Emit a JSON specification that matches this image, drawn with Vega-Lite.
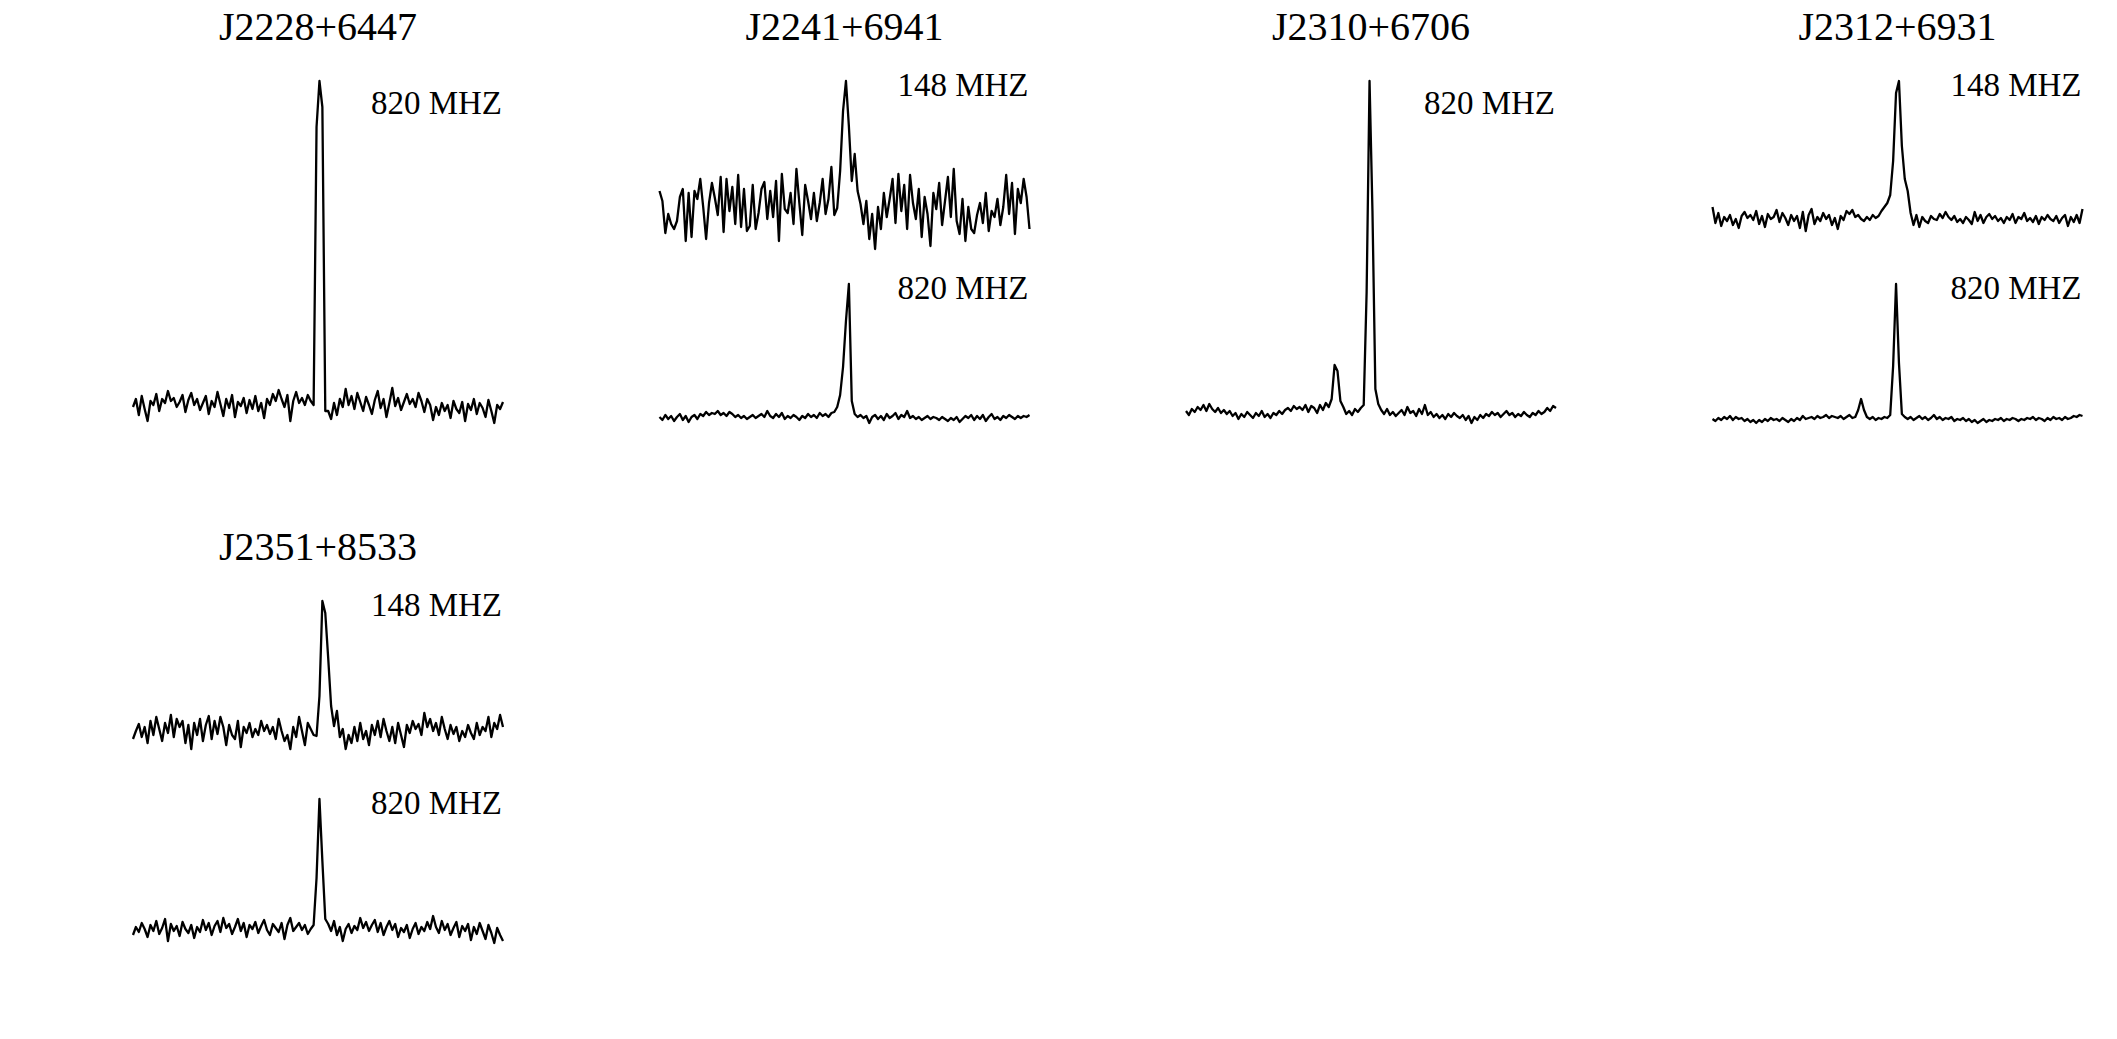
{
"$schema": "https://vega.github.io/schema/vega-lite/v6.json",
"background": "white",
"padding": {"left": 131, "top": 8, "right": 0, "bottom": 0},
"bounds": "flush",
"config": {"view": {"stroke": null}, "font": "Liberation Serif"},
"datasets": {
"pulsars": [{"k":1,"name":"J2228+6447"},{"k":2,"name":"J2241+6941"},{"k":3,"name":"J2310+6706"},{"k":4,"name":"J2312+6931"},{"k":5,"name":"J2351+8533"}],
"profiles": [
{"k":1,"b":820,"i":0,"v":22},{"k":1,"b":820,"i":1,"v":30},{"k":1,"b":820,"i":2,"v":14},{"k":1,"b":820,"i":3,"v":33},{"k":1,"b":820,"i":4,"v":20},{"k":1,"b":820,"i":5,"v":8},{"k":1,"b":820,"i":6,"v":28},{"k":1,"b":820,"i":7,"v":24},{"k":1,"b":820,"i":8,"v":35},{"k":1,"b":820,"i":9,"v":18},
{"k":1,"b":820,"i":10,"v":30},{"k":1,"b":820,"i":11,"v":26},{"k":1,"b":820,"i":12,"v":38},{"k":1,"b":820,"i":13,"v":28},{"k":1,"b":820,"i":14,"v":31},{"k":1,"b":820,"i":15,"v":22},{"k":1,"b":820,"i":16,"v":27},{"k":1,"b":820,"i":17,"v":34},{"k":1,"b":820,"i":18,"v":17},{"k":1,"b":820,"i":19,"v":29},
{"k":1,"b":820,"i":20,"v":36},{"k":1,"b":820,"i":21,"v":24},{"k":1,"b":820,"i":22,"v":30},{"k":1,"b":820,"i":23,"v":19},{"k":1,"b":820,"i":24,"v":26},{"k":1,"b":820,"i":25,"v":33},{"k":1,"b":820,"i":26,"v":15},{"k":1,"b":820,"i":27,"v":28},{"k":1,"b":820,"i":28,"v":22},{"k":1,"b":820,"i":29,"v":37},
{"k":1,"b":820,"i":30,"v":25},{"k":1,"b":820,"i":31,"v":13},{"k":1,"b":820,"i":32,"v":30},{"k":1,"b":820,"i":33,"v":21},{"k":1,"b":820,"i":34,"v":34},{"k":1,"b":820,"i":35,"v":12},{"k":1,"b":820,"i":36,"v":27},{"k":1,"b":820,"i":37,"v":23},{"k":1,"b":820,"i":38,"v":31},{"k":1,"b":820,"i":39,"v":16},
{"k":1,"b":820,"i":40,"v":29},{"k":1,"b":820,"i":41,"v":20},{"k":1,"b":820,"i":42,"v":33},{"k":1,"b":820,"i":43,"v":18},{"k":1,"b":820,"i":44,"v":26},{"k":1,"b":820,"i":45,"v":11},{"k":1,"b":820,"i":46,"v":30},{"k":1,"b":820,"i":47,"v":24},{"k":1,"b":820,"i":48,"v":35},{"k":1,"b":820,"i":49,"v":28},
{"k":1,"b":820,"i":50,"v":39},{"k":1,"b":820,"i":51,"v":30},{"k":1,"b":820,"i":52,"v":22},{"k":1,"b":820,"i":53,"v":34},{"k":1,"b":820,"i":54,"v":8},{"k":1,"b":820,"i":55,"v":28},{"k":1,"b":820,"i":56,"v":37},{"k":1,"b":820,"i":57,"v":26},{"k":1,"b":820,"i":58,"v":31},{"k":1,"b":820,"i":59,"v":24},
{"k":1,"b":820,"i":60,"v":34},{"k":1,"b":820,"i":61,"v":28},{"k":1,"b":820,"i":62,"v":24},{"k":1,"b":820,"i":63,"v":302},{"k":1,"b":820,"i":64,"v":348},{"k":1,"b":820,"i":65,"v":322},{"k":1,"b":820,"i":66,"v":18},{"k":1,"b":820,"i":67,"v":18},{"k":1,"b":820,"i":68,"v":10},{"k":1,"b":820,"i":69,"v":26},
{"k":1,"b":820,"i":70,"v":14},{"k":1,"b":820,"i":71,"v":30},{"k":1,"b":820,"i":72,"v":22},{"k":1,"b":820,"i":73,"v":40},{"k":1,"b":820,"i":74,"v":24},{"k":1,"b":820,"i":75,"v":33},{"k":1,"b":820,"i":76,"v":20},{"k":1,"b":820,"i":77,"v":36},{"k":1,"b":820,"i":78,"v":27},{"k":1,"b":820,"i":79,"v":18},
{"k":1,"b":820,"i":80,"v":32},{"k":1,"b":820,"i":81,"v":24},{"k":1,"b":820,"i":82,"v":15},{"k":1,"b":820,"i":83,"v":29},{"k":1,"b":820,"i":84,"v":38},{"k":1,"b":820,"i":85,"v":21},{"k":1,"b":820,"i":86,"v":30},{"k":1,"b":820,"i":87,"v":12},{"k":1,"b":820,"i":88,"v":26},{"k":1,"b":820,"i":89,"v":41},
{"k":1,"b":820,"i":90,"v":23},{"k":1,"b":820,"i":91,"v":31},{"k":1,"b":820,"i":92,"v":19},{"k":1,"b":820,"i":93,"v":27},{"k":1,"b":820,"i":94,"v":35},{"k":1,"b":820,"i":95,"v":25},{"k":1,"b":820,"i":96,"v":30},{"k":1,"b":820,"i":97,"v":22},{"k":1,"b":820,"i":98,"v":36},{"k":1,"b":820,"i":99,"v":28},
{"k":1,"b":820,"i":100,"v":17},{"k":1,"b":820,"i":101,"v":30},{"k":1,"b":820,"i":102,"v":24},{"k":1,"b":820,"i":103,"v":9},{"k":1,"b":820,"i":104,"v":22},{"k":1,"b":820,"i":105,"v":14},{"k":1,"b":820,"i":106,"v":26},{"k":1,"b":820,"i":107,"v":18},{"k":1,"b":820,"i":108,"v":24},{"k":1,"b":820,"i":109,"v":11},
{"k":1,"b":820,"i":110,"v":28},{"k":1,"b":820,"i":111,"v":20},{"k":1,"b":820,"i":112,"v":16},{"k":1,"b":820,"i":113,"v":27},{"k":1,"b":820,"i":114,"v":8},{"k":1,"b":820,"i":115,"v":25},{"k":1,"b":820,"i":116,"v":19},{"k":1,"b":820,"i":117,"v":30},{"k":1,"b":820,"i":118,"v":15},{"k":1,"b":820,"i":119,"v":26},
{"k":1,"b":820,"i":120,"v":21},{"k":1,"b":820,"i":121,"v":12},{"k":1,"b":820,"i":122,"v":29},{"k":1,"b":820,"i":123,"v":18},{"k":1,"b":820,"i":124,"v":6},{"k":1,"b":820,"i":125,"v":24},{"k":1,"b":820,"i":126,"v":20},{"k":1,"b":820,"i":127,"v":27},

{"k":2,"b":148,"i":0,"v":238},{"k":2,"b":148,"i":1,"v":228},{"k":2,"b":148,"i":2,"v":196},{"k":2,"b":148,"i":3,"v":215},{"k":2,"b":148,"i":4,"v":205},{"k":2,"b":148,"i":5,"v":200},{"k":2,"b":148,"i":6,"v":208},{"k":2,"b":148,"i":7,"v":232},{"k":2,"b":148,"i":8,"v":240},{"k":2,"b":148,"i":9,"v":188},
{"k":2,"b":148,"i":10,"v":236},{"k":2,"b":148,"i":11,"v":192},{"k":2,"b":148,"i":12,"v":238},{"k":2,"b":148,"i":13,"v":230},{"k":2,"b":148,"i":14,"v":250},{"k":2,"b":148,"i":15,"v":222},{"k":2,"b":148,"i":16,"v":190},{"k":2,"b":148,"i":17,"v":226},{"k":2,"b":148,"i":18,"v":246},{"k":2,"b":148,"i":19,"v":231},
{"k":2,"b":148,"i":20,"v":214},{"k":2,"b":148,"i":21,"v":252},{"k":2,"b":148,"i":22,"v":197},{"k":2,"b":148,"i":23,"v":250},{"k":2,"b":148,"i":24,"v":218},{"k":2,"b":148,"i":25,"v":242},{"k":2,"b":148,"i":26,"v":205},{"k":2,"b":148,"i":27,"v":254},{"k":2,"b":148,"i":28,"v":202},{"k":2,"b":148,"i":29,"v":240},
{"k":2,"b":148,"i":30,"v":198},{"k":2,"b":148,"i":31,"v":203},{"k":2,"b":148,"i":32,"v":244},{"k":2,"b":148,"i":33,"v":200},{"k":2,"b":148,"i":34,"v":216},{"k":2,"b":148,"i":35,"v":240},{"k":2,"b":148,"i":36,"v":247},{"k":2,"b":148,"i":37,"v":210},{"k":2,"b":148,"i":38,"v":238},{"k":2,"b":148,"i":39,"v":212},
{"k":2,"b":148,"i":40,"v":248},{"k":2,"b":148,"i":41,"v":188},{"k":2,"b":148,"i":42,"v":255},{"k":2,"b":148,"i":43,"v":220},{"k":2,"b":148,"i":44,"v":216},{"k":2,"b":148,"i":45,"v":236},{"k":2,"b":148,"i":46,"v":205},{"k":2,"b":148,"i":47,"v":260},{"k":2,"b":148,"i":48,"v":226},{"k":2,"b":148,"i":49,"v":194},
{"k":2,"b":148,"i":50,"v":244},{"k":2,"b":148,"i":51,"v":228},{"k":2,"b":148,"i":52,"v":210},{"k":2,"b":148,"i":53,"v":236},{"k":2,"b":148,"i":54,"v":208},{"k":2,"b":148,"i":55,"v":226},{"k":2,"b":148,"i":56,"v":250},{"k":2,"b":148,"i":57,"v":215},{"k":2,"b":148,"i":58,"v":230},{"k":2,"b":148,"i":59,"v":262},
{"k":2,"b":148,"i":60,"v":214},{"k":2,"b":148,"i":61,"v":221},{"k":2,"b":148,"i":62,"v":258},{"k":2,"b":148,"i":63,"v":318},{"k":2,"b":148,"i":64,"v":348},{"k":2,"b":148,"i":65,"v":303},{"k":2,"b":148,"i":66,"v":248},{"k":2,"b":148,"i":67,"v":275},{"k":2,"b":148,"i":68,"v":238},{"k":2,"b":148,"i":69,"v":225},
{"k":2,"b":148,"i":70,"v":205},{"k":2,"b":148,"i":71,"v":228},{"k":2,"b":148,"i":72,"v":190},{"k":2,"b":148,"i":73,"v":215},{"k":2,"b":148,"i":74,"v":180},{"k":2,"b":148,"i":75,"v":222},{"k":2,"b":148,"i":76,"v":200},{"k":2,"b":148,"i":77,"v":236},{"k":2,"b":148,"i":78,"v":212},{"k":2,"b":148,"i":79,"v":230},
{"k":2,"b":148,"i":80,"v":250},{"k":2,"b":148,"i":81,"v":206},{"k":2,"b":148,"i":82,"v":255},{"k":2,"b":148,"i":83,"v":218},{"k":2,"b":148,"i":84,"v":244},{"k":2,"b":148,"i":85,"v":200},{"k":2,"b":148,"i":86,"v":254},{"k":2,"b":148,"i":87,"v":226},{"k":2,"b":148,"i":88,"v":210},{"k":2,"b":148,"i":89,"v":240},
{"k":2,"b":148,"i":90,"v":192},{"k":2,"b":148,"i":91,"v":232},{"k":2,"b":148,"i":92,"v":215},{"k":2,"b":148,"i":93,"v":183},{"k":2,"b":148,"i":94,"v":236},{"k":2,"b":148,"i":95,"v":220},{"k":2,"b":148,"i":96,"v":246},{"k":2,"b":148,"i":97,"v":204},{"k":2,"b":148,"i":98,"v":228},{"k":2,"b":148,"i":99,"v":252},
{"k":2,"b":148,"i":100,"v":212},{"k":2,"b":148,"i":101,"v":260},{"k":2,"b":148,"i":102,"v":208},{"k":2,"b":148,"i":103,"v":195},{"k":2,"b":148,"i":104,"v":230},{"k":2,"b":148,"i":105,"v":188},{"k":2,"b":148,"i":106,"v":222},{"k":2,"b":148,"i":107,"v":200},{"k":2,"b":148,"i":108,"v":196},{"k":2,"b":148,"i":109,"v":214},
{"k":2,"b":148,"i":110,"v":226},{"k":2,"b":148,"i":111,"v":206},{"k":2,"b":148,"i":112,"v":236},{"k":2,"b":148,"i":113,"v":198},{"k":2,"b":148,"i":114,"v":218},{"k":2,"b":148,"i":115,"v":212},{"k":2,"b":148,"i":116,"v":230},{"k":2,"b":148,"i":117,"v":204},{"k":2,"b":148,"i":118,"v":222},{"k":2,"b":148,"i":119,"v":254},
{"k":2,"b":148,"i":120,"v":215},{"k":2,"b":148,"i":121,"v":246},{"k":2,"b":148,"i":122,"v":195},{"k":2,"b":148,"i":123,"v":240},{"k":2,"b":148,"i":124,"v":226},{"k":2,"b":148,"i":125,"v":250},{"k":2,"b":148,"i":126,"v":232},{"k":2,"b":148,"i":127,"v":200},

{"k":2,"b":820,"i":0,"v":12},{"k":2,"b":820,"i":1,"v":9},{"k":2,"b":820,"i":2,"v":14},{"k":2,"b":820,"i":3,"v":10},{"k":2,"b":820,"i":4,"v":13},{"k":2,"b":820,"i":5,"v":8},{"k":2,"b":820,"i":6,"v":12},{"k":2,"b":820,"i":7,"v":15},{"k":2,"b":820,"i":8,"v":9},{"k":2,"b":820,"i":9,"v":13},
{"k":2,"b":820,"i":10,"v":7},{"k":2,"b":820,"i":11,"v":12},{"k":2,"b":820,"i":12,"v":14},{"k":2,"b":820,"i":13,"v":10},{"k":2,"b":820,"i":14,"v":15},{"k":2,"b":820,"i":15,"v":13},{"k":2,"b":820,"i":16,"v":17},{"k":2,"b":820,"i":17,"v":14},{"k":2,"b":820,"i":18,"v":16},{"k":2,"b":820,"i":19,"v":15},
{"k":2,"b":820,"i":20,"v":18},{"k":2,"b":820,"i":21,"v":14},{"k":2,"b":820,"i":22,"v":16},{"k":2,"b":820,"i":23,"v":13},{"k":2,"b":820,"i":24,"v":17},{"k":2,"b":820,"i":25,"v":15},{"k":2,"b":820,"i":26,"v":12},{"k":2,"b":820,"i":27,"v":14},{"k":2,"b":820,"i":28,"v":11},{"k":2,"b":820,"i":29,"v":13},
{"k":2,"b":820,"i":30,"v":10},{"k":2,"b":820,"i":31,"v":12},{"k":2,"b":820,"i":32,"v":14},{"k":2,"b":820,"i":33,"v":11},{"k":2,"b":820,"i":34,"v":13},{"k":2,"b":820,"i":35,"v":15},{"k":2,"b":820,"i":36,"v":12},{"k":2,"b":820,"i":37,"v":18},{"k":2,"b":820,"i":38,"v":13},{"k":2,"b":820,"i":39,"v":11},
{"k":2,"b":820,"i":40,"v":15},{"k":2,"b":820,"i":41,"v":12},{"k":2,"b":820,"i":42,"v":16},{"k":2,"b":820,"i":43,"v":10},{"k":2,"b":820,"i":44,"v":13},{"k":2,"b":820,"i":45,"v":11},{"k":2,"b":820,"i":46,"v":14},{"k":2,"b":820,"i":47,"v":12},{"k":2,"b":820,"i":48,"v":9},{"k":2,"b":820,"i":49,"v":13},
{"k":2,"b":820,"i":50,"v":11},{"k":2,"b":820,"i":51,"v":15},{"k":2,"b":820,"i":52,"v":12},{"k":2,"b":820,"i":53,"v":14},{"k":2,"b":820,"i":54,"v":11},{"k":2,"b":820,"i":55,"v":16},{"k":2,"b":820,"i":56,"v":13},{"k":2,"b":820,"i":57,"v":15},{"k":2,"b":820,"i":58,"v":12},{"k":2,"b":820,"i":59,"v":16},
{"k":2,"b":820,"i":60,"v":17},{"k":2,"b":820,"i":61,"v":22},{"k":2,"b":820,"i":62,"v":34},{"k":2,"b":820,"i":63,"v":62},{"k":2,"b":820,"i":64,"v":108},{"k":2,"b":820,"i":65,"v":145},{"k":2,"b":820,"i":66,"v":28},{"k":2,"b":820,"i":67,"v":15},{"k":2,"b":820,"i":68,"v":12},{"k":2,"b":820,"i":69,"v":14},
{"k":2,"b":820,"i":70,"v":11},{"k":2,"b":820,"i":71,"v":13},{"k":2,"b":820,"i":72,"v":6},{"k":2,"b":820,"i":73,"v":12},{"k":2,"b":820,"i":74,"v":14},{"k":2,"b":820,"i":75,"v":10},{"k":2,"b":820,"i":76,"v":13},{"k":2,"b":820,"i":77,"v":9},{"k":2,"b":820,"i":78,"v":15},{"k":2,"b":820,"i":79,"v":11},
{"k":2,"b":820,"i":80,"v":13},{"k":2,"b":820,"i":81,"v":16},{"k":2,"b":820,"i":82,"v":10},{"k":2,"b":820,"i":83,"v":14},{"k":2,"b":820,"i":84,"v":12},{"k":2,"b":820,"i":85,"v":18},{"k":2,"b":820,"i":86,"v":11},{"k":2,"b":820,"i":87,"v":13},{"k":2,"b":820,"i":88,"v":10},{"k":2,"b":820,"i":89,"v":12},
{"k":2,"b":820,"i":90,"v":9},{"k":2,"b":820,"i":91,"v":11},{"k":2,"b":820,"i":92,"v":13},{"k":2,"b":820,"i":93,"v":10},{"k":2,"b":820,"i":94,"v":12},{"k":2,"b":820,"i":95,"v":11},{"k":2,"b":820,"i":96,"v":9},{"k":2,"b":820,"i":97,"v":12},{"k":2,"b":820,"i":98,"v":10},{"k":2,"b":820,"i":99,"v":8},
{"k":2,"b":820,"i":100,"v":11},{"k":2,"b":820,"i":101,"v":9},{"k":2,"b":820,"i":102,"v":12},{"k":2,"b":820,"i":103,"v":7},{"k":2,"b":820,"i":104,"v":10},{"k":2,"b":820,"i":105,"v":13},{"k":2,"b":820,"i":106,"v":11},{"k":2,"b":820,"i":107,"v":14},{"k":2,"b":820,"i":108,"v":9},{"k":2,"b":820,"i":109,"v":13},
{"k":2,"b":820,"i":110,"v":10},{"k":2,"b":820,"i":111,"v":14},{"k":2,"b":820,"i":112,"v":8},{"k":2,"b":820,"i":113,"v":12},{"k":2,"b":820,"i":114,"v":15},{"k":2,"b":820,"i":115,"v":10},{"k":2,"b":820,"i":116,"v":12},{"k":2,"b":820,"i":117,"v":9},{"k":2,"b":820,"i":118,"v":13},{"k":2,"b":820,"i":119,"v":11},
{"k":2,"b":820,"i":120,"v":14},{"k":2,"b":820,"i":121,"v":12},{"k":2,"b":820,"i":122,"v":10},{"k":2,"b":820,"i":123,"v":13},{"k":2,"b":820,"i":124,"v":11},{"k":2,"b":820,"i":125,"v":13},{"k":2,"b":820,"i":126,"v":12},{"k":2,"b":820,"i":127,"v":14},

{"k":3,"b":820,"i":0,"v":18},{"k":3,"b":820,"i":1,"v":14},{"k":3,"b":820,"i":2,"v":20},{"k":3,"b":820,"i":3,"v":17},{"k":3,"b":820,"i":4,"v":22},{"k":3,"b":820,"i":5,"v":19},{"k":3,"b":820,"i":6,"v":24},{"k":3,"b":820,"i":7,"v":18},{"k":3,"b":820,"i":8,"v":25},{"k":3,"b":820,"i":9,"v":20},
{"k":3,"b":820,"i":10,"v":17},{"k":3,"b":820,"i":11,"v":21},{"k":3,"b":820,"i":12,"v":16},{"k":3,"b":820,"i":13,"v":19},{"k":3,"b":820,"i":14,"v":15},{"k":3,"b":820,"i":15,"v":18},{"k":3,"b":820,"i":16,"v":13},{"k":3,"b":820,"i":17,"v":16},{"k":3,"b":820,"i":18,"v":10},{"k":3,"b":820,"i":19,"v":15},
{"k":3,"b":820,"i":20,"v":12},{"k":3,"b":820,"i":21,"v":17},{"k":3,"b":820,"i":22,"v":14},{"k":3,"b":820,"i":23,"v":11},{"k":3,"b":820,"i":24,"v":16},{"k":3,"b":820,"i":25,"v":13},{"k":3,"b":820,"i":26,"v":18},{"k":3,"b":820,"i":27,"v":12},{"k":3,"b":820,"i":28,"v":15},{"k":3,"b":820,"i":29,"v":11},
{"k":3,"b":820,"i":30,"v":16},{"k":3,"b":820,"i":31,"v":14},{"k":3,"b":820,"i":32,"v":18},{"k":3,"b":820,"i":33,"v":15},{"k":3,"b":820,"i":34,"v":19},{"k":3,"b":820,"i":35,"v":21},{"k":3,"b":820,"i":36,"v":18},{"k":3,"b":820,"i":37,"v":23},{"k":3,"b":820,"i":38,"v":20},{"k":3,"b":820,"i":39,"v":22},
{"k":3,"b":820,"i":40,"v":19},{"k":3,"b":820,"i":41,"v":24},{"k":3,"b":820,"i":42,"v":17},{"k":3,"b":820,"i":43,"v":23},{"k":3,"b":820,"i":44,"v":21},{"k":3,"b":820,"i":45,"v":16},{"k":3,"b":820,"i":46,"v":24},{"k":3,"b":820,"i":47,"v":19},{"k":3,"b":820,"i":48,"v":26},{"k":3,"b":820,"i":49,"v":22},
{"k":3,"b":820,"i":50,"v":30},{"k":3,"b":820,"i":51,"v":64},{"k":3,"b":820,"i":52,"v":58},{"k":3,"b":820,"i":53,"v":28},{"k":3,"b":820,"i":54,"v":22},{"k":3,"b":820,"i":55,"v":15},{"k":3,"b":820,"i":56,"v":18},{"k":3,"b":820,"i":57,"v":14},{"k":3,"b":820,"i":58,"v":20},{"k":3,"b":820,"i":59,"v":17},
{"k":3,"b":820,"i":60,"v":21},{"k":3,"b":820,"i":61,"v":24},{"k":3,"b":820,"i":62,"v":137},{"k":3,"b":820,"i":63,"v":348},{"k":3,"b":820,"i":64,"v":218},{"k":3,"b":820,"i":65,"v":40},{"k":3,"b":820,"i":66,"v":25},{"k":3,"b":820,"i":67,"v":19},{"k":3,"b":820,"i":68,"v":15},{"k":3,"b":820,"i":69,"v":20},
{"k":3,"b":820,"i":70,"v":14},{"k":3,"b":820,"i":71,"v":17},{"k":3,"b":820,"i":72,"v":13},{"k":3,"b":820,"i":73,"v":16},{"k":3,"b":820,"i":74,"v":19},{"k":3,"b":820,"i":75,"v":14},{"k":3,"b":820,"i":76,"v":22},{"k":3,"b":820,"i":77,"v":16},{"k":3,"b":820,"i":78,"v":18},{"k":3,"b":820,"i":79,"v":13},
{"k":3,"b":820,"i":80,"v":20},{"k":3,"b":820,"i":81,"v":15},{"k":3,"b":820,"i":82,"v":24},{"k":3,"b":820,"i":83,"v":14},{"k":3,"b":820,"i":84,"v":17},{"k":3,"b":820,"i":85,"v":12},{"k":3,"b":820,"i":86,"v":15},{"k":3,"b":820,"i":87,"v":11},{"k":3,"b":820,"i":88,"v":14},{"k":3,"b":820,"i":89,"v":10},
{"k":3,"b":820,"i":90,"v":15},{"k":3,"b":820,"i":91,"v":12},{"k":3,"b":820,"i":92,"v":16},{"k":3,"b":820,"i":93,"v":13},{"k":3,"b":820,"i":94,"v":11},{"k":3,"b":820,"i":95,"v":14},{"k":3,"b":820,"i":96,"v":9},{"k":3,"b":820,"i":97,"v":13},{"k":3,"b":820,"i":98,"v":6},{"k":3,"b":820,"i":99,"v":12},
{"k":3,"b":820,"i":100,"v":9},{"k":3,"b":820,"i":101,"v":14},{"k":3,"b":820,"i":102,"v":11},{"k":3,"b":820,"i":103,"v":15},{"k":3,"b":820,"i":104,"v":13},{"k":3,"b":820,"i":105,"v":17},{"k":3,"b":820,"i":106,"v":14},{"k":3,"b":820,"i":107,"v":16},{"k":3,"b":820,"i":108,"v":12},{"k":3,"b":820,"i":109,"v":15},
{"k":3,"b":820,"i":110,"v":18},{"k":3,"b":820,"i":111,"v":14},{"k":3,"b":820,"i":112,"v":16},{"k":3,"b":820,"i":113,"v":12},{"k":3,"b":820,"i":114,"v":15},{"k":3,"b":820,"i":115,"v":13},{"k":3,"b":820,"i":116,"v":17},{"k":3,"b":820,"i":117,"v":14},{"k":3,"b":820,"i":118,"v":12},{"k":3,"b":820,"i":119,"v":16},
{"k":3,"b":820,"i":120,"v":14},{"k":3,"b":820,"i":121,"v":18},{"k":3,"b":820,"i":122,"v":15},{"k":3,"b":820,"i":123,"v":17},{"k":3,"b":820,"i":124,"v":21},{"k":3,"b":820,"i":125,"v":18},{"k":3,"b":820,"i":126,"v":23},{"k":3,"b":820,"i":127,"v":21},

{"k":4,"b":148,"i":0,"v":222},{"k":4,"b":148,"i":1,"v":206},{"k":4,"b":148,"i":2,"v":216},{"k":4,"b":148,"i":3,"v":203},{"k":4,"b":148,"i":4,"v":212},{"k":4,"b":148,"i":5,"v":208},{"k":4,"b":148,"i":6,"v":214},{"k":4,"b":148,"i":7,"v":204},{"k":4,"b":148,"i":8,"v":210},{"k":4,"b":148,"i":9,"v":201},
{"k":4,"b":148,"i":10,"v":213},{"k":4,"b":148,"i":11,"v":217},{"k":4,"b":148,"i":12,"v":211},{"k":4,"b":148,"i":13,"v":214},{"k":4,"b":148,"i":14,"v":209},{"k":4,"b":148,"i":15,"v":218},{"k":4,"b":148,"i":16,"v":205},{"k":4,"b":148,"i":17,"v":213},{"k":4,"b":148,"i":18,"v":202},{"k":4,"b":148,"i":19,"v":215},
{"k":4,"b":148,"i":20,"v":210},{"k":4,"b":148,"i":21,"v":212},{"k":4,"b":148,"i":22,"v":219},{"k":4,"b":148,"i":23,"v":207},{"k":4,"b":148,"i":24,"v":216},{"k":4,"b":148,"i":25,"v":211},{"k":4,"b":148,"i":26,"v":204},{"k":4,"b":148,"i":27,"v":214},{"k":4,"b":148,"i":28,"v":208},{"k":4,"b":148,"i":29,"v":213},
{"k":4,"b":148,"i":30,"v":201},{"k":4,"b":148,"i":31,"v":217},{"k":4,"b":148,"i":32,"v":198},{"k":4,"b":148,"i":33,"v":214},{"k":4,"b":148,"i":34,"v":220},{"k":4,"b":148,"i":35,"v":205},{"k":4,"b":148,"i":36,"v":212},{"k":4,"b":148,"i":37,"v":208},{"k":4,"b":148,"i":38,"v":216},{"k":4,"b":148,"i":39,"v":210},
{"k":4,"b":148,"i":40,"v":214},{"k":4,"b":148,"i":41,"v":204},{"k":4,"b":148,"i":42,"v":211},{"k":4,"b":148,"i":43,"v":200},{"k":4,"b":148,"i":44,"v":213},{"k":4,"b":148,"i":45,"v":209},{"k":4,"b":148,"i":46,"v":218},{"k":4,"b":148,"i":47,"v":215},{"k":4,"b":148,"i":48,"v":219},{"k":4,"b":148,"i":49,"v":212},
{"k":4,"b":148,"i":50,"v":214},{"k":4,"b":148,"i":51,"v":210},{"k":4,"b":148,"i":52,"v":208},{"k":4,"b":148,"i":53,"v":212},{"k":4,"b":148,"i":54,"v":209},{"k":4,"b":148,"i":55,"v":214},{"k":4,"b":148,"i":56,"v":211},{"k":4,"b":148,"i":57,"v":213},{"k":4,"b":148,"i":58,"v":218},{"k":4,"b":148,"i":59,"v":222},
{"k":4,"b":148,"i":60,"v":226},{"k":4,"b":148,"i":61,"v":234},{"k":4,"b":148,"i":62,"v":268},{"k":4,"b":148,"i":63,"v":336},{"k":4,"b":148,"i":64,"v":348},{"k":4,"b":148,"i":65,"v":283},{"k":4,"b":148,"i":66,"v":250},{"k":4,"b":148,"i":67,"v":238},{"k":4,"b":148,"i":68,"v":216},{"k":4,"b":148,"i":69,"v":204},
{"k":4,"b":148,"i":70,"v":214},{"k":4,"b":148,"i":71,"v":202},{"k":4,"b":148,"i":72,"v":212},{"k":4,"b":148,"i":73,"v":208},{"k":4,"b":148,"i":74,"v":206},{"k":4,"b":148,"i":75,"v":213},{"k":4,"b":148,"i":76,"v":210},{"k":4,"b":148,"i":77,"v":209},{"k":4,"b":148,"i":78,"v":215},{"k":4,"b":148,"i":79,"v":211},
{"k":4,"b":148,"i":80,"v":217},{"k":4,"b":148,"i":81,"v":212},{"k":4,"b":148,"i":82,"v":209},{"k":4,"b":148,"i":83,"v":213},{"k":4,"b":148,"i":84,"v":207},{"k":4,"b":148,"i":85,"v":210},{"k":4,"b":148,"i":86,"v":206},{"k":4,"b":148,"i":87,"v":212},{"k":4,"b":148,"i":88,"v":209},{"k":4,"b":148,"i":89,"v":205},
{"k":4,"b":148,"i":90,"v":217},{"k":4,"b":148,"i":91,"v":208},{"k":4,"b":148,"i":92,"v":214},{"k":4,"b":148,"i":93,"v":206},{"k":4,"b":148,"i":94,"v":212},{"k":4,"b":148,"i":95,"v":215},{"k":4,"b":148,"i":96,"v":210},{"k":4,"b":148,"i":97,"v":213},{"k":4,"b":148,"i":98,"v":208},{"k":4,"b":148,"i":99,"v":211},
{"k":4,"b":148,"i":100,"v":206},{"k":4,"b":148,"i":101,"v":212},{"k":4,"b":148,"i":102,"v":209},{"k":4,"b":148,"i":103,"v":215},{"k":4,"b":148,"i":104,"v":206},{"k":4,"b":148,"i":105,"v":212},{"k":4,"b":148,"i":106,"v":210},{"k":4,"b":148,"i":107,"v":216},{"k":4,"b":148,"i":108,"v":208},{"k":4,"b":148,"i":109,"v":211},
{"k":4,"b":148,"i":110,"v":207},{"k":4,"b":148,"i":111,"v":213},{"k":4,"b":148,"i":112,"v":205},{"k":4,"b":148,"i":113,"v":212},{"k":4,"b":148,"i":114,"v":209},{"k":4,"b":148,"i":115,"v":214},{"k":4,"b":148,"i":116,"v":210},{"k":4,"b":148,"i":117,"v":208},{"k":4,"b":148,"i":118,"v":213},{"k":4,"b":148,"i":119,"v":206},
{"k":4,"b":148,"i":120,"v":211},{"k":4,"b":148,"i":121,"v":214},{"k":4,"b":148,"i":122,"v":203},{"k":4,"b":148,"i":123,"v":212},{"k":4,"b":148,"i":124,"v":207},{"k":4,"b":148,"i":125,"v":214},{"k":4,"b":148,"i":126,"v":206},{"k":4,"b":148,"i":127,"v":220},

{"k":4,"b":820,"i":0,"v":10},{"k":4,"b":820,"i":1,"v":8},{"k":4,"b":820,"i":2,"v":11},{"k":4,"b":820,"i":3,"v":9},{"k":4,"b":820,"i":4,"v":12},{"k":4,"b":820,"i":5,"v":10},{"k":4,"b":820,"i":6,"v":13},{"k":4,"b":820,"i":7,"v":9},{"k":4,"b":820,"i":8,"v":12},{"k":4,"b":820,"i":9,"v":10},
{"k":4,"b":820,"i":10,"v":11},{"k":4,"b":820,"i":11,"v":8},{"k":4,"b":820,"i":12,"v":10},{"k":4,"b":820,"i":13,"v":7},{"k":4,"b":820,"i":14,"v":9},{"k":4,"b":820,"i":15,"v":6},{"k":4,"b":820,"i":16,"v":9},{"k":4,"b":820,"i":17,"v":7},{"k":4,"b":820,"i":18,"v":10},{"k":4,"b":820,"i":19,"v":8},
{"k":4,"b":820,"i":20,"v":11},{"k":4,"b":820,"i":21,"v":9},{"k":4,"b":820,"i":22,"v":10},{"k":4,"b":820,"i":23,"v":8},{"k":4,"b":820,"i":24,"v":11},{"k":4,"b":820,"i":25,"v":9},{"k":4,"b":820,"i":26,"v":7},{"k":4,"b":820,"i":27,"v":10},{"k":4,"b":820,"i":28,"v":8},{"k":4,"b":820,"i":29,"v":11},
{"k":4,"b":820,"i":30,"v":9},{"k":4,"b":820,"i":31,"v":13},{"k":4,"b":820,"i":32,"v":10},{"k":4,"b":820,"i":33,"v":11},{"k":4,"b":820,"i":34,"v":12},{"k":4,"b":820,"i":35,"v":10},{"k":4,"b":820,"i":36,"v":13},{"k":4,"b":820,"i":37,"v":11},{"k":4,"b":820,"i":38,"v":12},{"k":4,"b":820,"i":39,"v":14},
{"k":4,"b":820,"i":40,"v":11},{"k":4,"b":820,"i":41,"v":13},{"k":4,"b":820,"i":42,"v":12},{"k":4,"b":820,"i":43,"v":11},{"k":4,"b":820,"i":44,"v":13},{"k":4,"b":820,"i":45,"v":10},{"k":4,"b":820,"i":46,"v":12},{"k":4,"b":820,"i":47,"v":14},{"k":4,"b":820,"i":48,"v":11},{"k":4,"b":820,"i":49,"v":12},
{"k":4,"b":820,"i":50,"v":19},{"k":4,"b":820,"i":51,"v":30},{"k":4,"b":820,"i":52,"v":19},{"k":4,"b":820,"i":53,"v":12},{"k":4,"b":820,"i":54,"v":10},{"k":4,"b":820,"i":55,"v":12},{"k":4,"b":820,"i":56,"v":9},{"k":4,"b":820,"i":57,"v":11},{"k":4,"b":820,"i":58,"v":10},{"k":4,"b":820,"i":59,"v":12},
{"k":4,"b":820,"i":60,"v":11},{"k":4,"b":820,"i":61,"v":14},{"k":4,"b":820,"i":62,"v":63},{"k":4,"b":820,"i":63,"v":145},{"k":4,"b":820,"i":64,"v":66},{"k":4,"b":820,"i":65,"v":15},{"k":4,"b":820,"i":66,"v":12},{"k":4,"b":820,"i":67,"v":10},{"k":4,"b":820,"i":68,"v":12},{"k":4,"b":820,"i":69,"v":9},
{"k":4,"b":820,"i":70,"v":11},{"k":4,"b":820,"i":71,"v":13},{"k":4,"b":820,"i":72,"v":10},{"k":4,"b":820,"i":73,"v":12},{"k":4,"b":820,"i":74,"v":9},{"k":4,"b":820,"i":75,"v":11},{"k":4,"b":820,"i":76,"v":14},{"k":4,"b":820,"i":77,"v":10},{"k":4,"b":820,"i":78,"v":12},{"k":4,"b":820,"i":79,"v":9},
{"k":4,"b":820,"i":80,"v":11},{"k":4,"b":820,"i":81,"v":10},{"k":4,"b":820,"i":82,"v":12},{"k":4,"b":820,"i":83,"v":8},{"k":4,"b":820,"i":84,"v":10},{"k":4,"b":820,"i":85,"v":9},{"k":4,"b":820,"i":86,"v":11},{"k":4,"b":820,"i":87,"v":8},{"k":4,"b":820,"i":88,"v":10},{"k":4,"b":820,"i":89,"v":7},
{"k":4,"b":820,"i":90,"v":9},{"k":4,"b":820,"i":91,"v":6},{"k":4,"b":820,"i":92,"v":8},{"k":4,"b":820,"i":93,"v":10},{"k":4,"b":820,"i":94,"v":7},{"k":4,"b":820,"i":95,"v":9},{"k":4,"b":820,"i":96,"v":8},{"k":4,"b":820,"i":97,"v":10},{"k":4,"b":820,"i":98,"v":9},{"k":4,"b":820,"i":99,"v":11},
{"k":4,"b":820,"i":100,"v":8},{"k":4,"b":820,"i":101,"v":10},{"k":4,"b":820,"i":102,"v":9},{"k":4,"b":820,"i":103,"v":11},{"k":4,"b":820,"i":104,"v":10},{"k":4,"b":820,"i":105,"v":8},{"k":4,"b":820,"i":106,"v":10},{"k":4,"b":820,"i":107,"v":9},{"k":4,"b":820,"i":108,"v":11},{"k":4,"b":820,"i":109,"v":10},
{"k":4,"b":820,"i":110,"v":12},{"k":4,"b":820,"i":111,"v":9},{"k":4,"b":820,"i":112,"v":11},{"k":4,"b":820,"i":113,"v":10},{"k":4,"b":820,"i":114,"v":8},{"k":4,"b":820,"i":115,"v":11},{"k":4,"b":820,"i":116,"v":9},{"k":4,"b":820,"i":117,"v":12},{"k":4,"b":820,"i":118,"v":10},{"k":4,"b":820,"i":119,"v":11},
{"k":4,"b":820,"i":120,"v":9},{"k":4,"b":820,"i":121,"v":12},{"k":4,"b":820,"i":122,"v":10},{"k":4,"b":820,"i":123,"v":11},{"k":4,"b":820,"i":124,"v":13},{"k":4,"b":820,"i":125,"v":12},{"k":4,"b":820,"i":126,"v":14},{"k":4,"b":820,"i":127,"v":13},

{"k":5,"b":148,"i":0,"v":210},{"k":5,"b":148,"i":1,"v":218},{"k":5,"b":148,"i":2,"v":225},{"k":5,"b":148,"i":3,"v":212},{"k":5,"b":148,"i":4,"v":222},{"k":5,"b":148,"i":5,"v":206},{"k":5,"b":148,"i":6,"v":228},{"k":5,"b":148,"i":7,"v":214},{"k":5,"b":148,"i":8,"v":232},{"k":5,"b":148,"i":9,"v":220},
{"k":5,"b":148,"i":10,"v":208},{"k":5,"b":148,"i":11,"v":226},{"k":5,"b":148,"i":12,"v":216},{"k":5,"b":148,"i":13,"v":234},{"k":5,"b":148,"i":14,"v":212},{"k":5,"b":148,"i":15,"v":230},{"k":5,"b":148,"i":16,"v":222},{"k":5,"b":148,"i":17,"v":228},{"k":5,"b":148,"i":18,"v":206},{"k":5,"b":148,"i":19,"v":224},
{"k":5,"b":148,"i":20,"v":200},{"k":5,"b":148,"i":21,"v":226},{"k":5,"b":148,"i":22,"v":214},{"k":5,"b":148,"i":23,"v":230},{"k":5,"b":148,"i":24,"v":208},{"k":5,"b":148,"i":25,"v":224},{"k":5,"b":148,"i":26,"v":233},{"k":5,"b":148,"i":27,"v":210},{"k":5,"b":148,"i":28,"v":228},{"k":5,"b":148,"i":29,"v":215},
{"k":5,"b":148,"i":30,"v":232},{"k":5,"b":148,"i":31,"v":222},{"k":5,"b":148,"i":32,"v":204},{"k":5,"b":148,"i":33,"v":224},{"k":5,"b":148,"i":34,"v":214},{"k":5,"b":148,"i":35,"v":210},{"k":5,"b":148,"i":36,"v":228},{"k":5,"b":148,"i":37,"v":202},{"k":5,"b":148,"i":38,"v":222},{"k":5,"b":148,"i":39,"v":216},
{"k":5,"b":148,"i":40,"v":226},{"k":5,"b":148,"i":41,"v":212},{"k":5,"b":148,"i":42,"v":220},{"k":5,"b":148,"i":43,"v":214},{"k":5,"b":148,"i":44,"v":228},{"k":5,"b":148,"i":45,"v":218},{"k":5,"b":148,"i":46,"v":224},{"k":5,"b":148,"i":47,"v":215},{"k":5,"b":148,"i":48,"v":222},{"k":5,"b":148,"i":49,"v":210},
{"k":5,"b":148,"i":50,"v":230},{"k":5,"b":148,"i":51,"v":218},{"k":5,"b":148,"i":52,"v":208},{"k":5,"b":148,"i":53,"v":214},{"k":5,"b":148,"i":54,"v":200},{"k":5,"b":148,"i":55,"v":222},{"k":5,"b":148,"i":56,"v":212},{"k":5,"b":148,"i":57,"v":232},{"k":5,"b":148,"i":58,"v":218},{"k":5,"b":148,"i":59,"v":204},
{"k":5,"b":148,"i":60,"v":226},{"k":5,"b":148,"i":61,"v":220},{"k":5,"b":148,"i":62,"v":214},{"k":5,"b":148,"i":63,"v":213},{"k":5,"b":148,"i":64,"v":253},{"k":5,"b":148,"i":65,"v":348},{"k":5,"b":148,"i":66,"v":336},{"k":5,"b":148,"i":67,"v":291},{"k":5,"b":148,"i":68,"v":243},{"k":5,"b":148,"i":69,"v":223},
{"k":5,"b":148,"i":70,"v":238},{"k":5,"b":148,"i":71,"v":212},{"k":5,"b":148,"i":72,"v":220},{"k":5,"b":148,"i":73,"v":200},{"k":5,"b":148,"i":74,"v":214},{"k":5,"b":148,"i":75,"v":206},{"k":5,"b":148,"i":76,"v":222},{"k":5,"b":148,"i":77,"v":208},{"k":5,"b":148,"i":78,"v":226},{"k":5,"b":148,"i":79,"v":210},
{"k":5,"b":148,"i":80,"v":218},{"k":5,"b":148,"i":81,"v":204},{"k":5,"b":148,"i":82,"v":224},{"k":5,"b":148,"i":83,"v":214},{"k":5,"b":148,"i":84,"v":228},{"k":5,"b":148,"i":85,"v":212},{"k":5,"b":148,"i":86,"v":230},{"k":5,"b":148,"i":87,"v":218},{"k":5,"b":148,"i":88,"v":208},{"k":5,"b":148,"i":89,"v":222},
{"k":5,"b":148,"i":90,"v":206},{"k":5,"b":148,"i":91,"v":226},{"k":5,"b":148,"i":92,"v":214},{"k":5,"b":148,"i":93,"v":202},{"k":5,"b":148,"i":94,"v":224},{"k":5,"b":148,"i":95,"v":216},{"k":5,"b":148,"i":96,"v":228},{"k":5,"b":148,"i":97,"v":220},{"k":5,"b":148,"i":98,"v":225},{"k":5,"b":148,"i":99,"v":214},
{"k":5,"b":148,"i":100,"v":236},{"k":5,"b":148,"i":101,"v":222},{"k":5,"b":148,"i":102,"v":230},{"k":5,"b":148,"i":103,"v":218},{"k":5,"b":148,"i":104,"v":226},{"k":5,"b":148,"i":105,"v":214},{"k":5,"b":148,"i":106,"v":232},{"k":5,"b":148,"i":107,"v":220},{"k":5,"b":148,"i":108,"v":210},{"k":5,"b":148,"i":109,"v":224},
{"k":5,"b":148,"i":110,"v":215},{"k":5,"b":148,"i":111,"v":222},{"k":5,"b":148,"i":112,"v":208},{"k":5,"b":148,"i":113,"v":218},{"k":5,"b":148,"i":114,"v":212},{"k":5,"b":148,"i":115,"v":224},{"k":5,"b":148,"i":116,"v":216},{"k":5,"b":148,"i":117,"v":210},{"k":5,"b":148,"i":118,"v":226},{"k":5,"b":148,"i":119,"v":214},
{"k":5,"b":148,"i":120,"v":222},{"k":5,"b":148,"i":121,"v":218},{"k":5,"b":148,"i":122,"v":232},{"k":5,"b":148,"i":123,"v":212},{"k":5,"b":148,"i":124,"v":226},{"k":5,"b":148,"i":125,"v":220},{"k":5,"b":148,"i":126,"v":234},{"k":5,"b":148,"i":127,"v":222},

{"k":5,"b":820,"i":0,"v":14},{"k":5,"b":820,"i":1,"v":22},{"k":5,"b":820,"i":2,"v":17},{"k":5,"b":820,"i":3,"v":26},{"k":5,"b":820,"i":4,"v":20},{"k":5,"b":820,"i":5,"v":12},{"k":5,"b":820,"i":6,"v":24},{"k":5,"b":820,"i":7,"v":18},{"k":5,"b":820,"i":8,"v":28},{"k":5,"b":820,"i":9,"v":15},
{"k":5,"b":820,"i":10,"v":21},{"k":5,"b":820,"i":11,"v":30},{"k":5,"b":820,"i":12,"v":8},{"k":5,"b":820,"i":13,"v":25},{"k":5,"b":820,"i":14,"v":18},{"k":5,"b":820,"i":15,"v":23},{"k":5,"b":820,"i":16,"v":13},{"k":5,"b":820,"i":17,"v":27},{"k":5,"b":820,"i":18,"v":20},{"k":5,"b":820,"i":19,"v":16},
{"k":5,"b":820,"i":20,"v":24},{"k":5,"b":820,"i":21,"v":11},{"k":5,"b":820,"i":22,"v":22},{"k":5,"b":820,"i":23,"v":17},{"k":5,"b":820,"i":24,"v":29},{"k":5,"b":820,"i":25,"v":19},{"k":5,"b":820,"i":26,"v":26},{"k":5,"b":820,"i":27,"v":14},{"k":5,"b":820,"i":28,"v":23},{"k":5,"b":820,"i":29,"v":28},
{"k":5,"b":820,"i":30,"v":17},{"k":5,"b":820,"i":31,"v":31},{"k":5,"b":820,"i":32,"v":21},{"k":5,"b":820,"i":33,"v":25},{"k":5,"b":820,"i":34,"v":15},{"k":5,"b":820,"i":35,"v":22},{"k":5,"b":820,"i":36,"v":30},{"k":5,"b":820,"i":37,"v":18},{"k":5,"b":820,"i":38,"v":26},{"k":5,"b":820,"i":39,"v":12},
{"k":5,"b":820,"i":40,"v":24},{"k":5,"b":820,"i":41,"v":20},{"k":5,"b":820,"i":42,"v":27},{"k":5,"b":820,"i":43,"v":16},{"k":5,"b":820,"i":44,"v":23},{"k":5,"b":820,"i":45,"v":29},{"k":5,"b":820,"i":46,"v":19},{"k":5,"b":820,"i":47,"v":14},{"k":5,"b":820,"i":48,"v":25},{"k":5,"b":820,"i":49,"v":21},
{"k":5,"b":820,"i":50,"v":17},{"k":5,"b":820,"i":51,"v":26},{"k":5,"b":820,"i":52,"v":10},{"k":5,"b":820,"i":53,"v":24},{"k":5,"b":820,"i":54,"v":31},{"k":5,"b":820,"i":55,"v":18},{"k":5,"b":820,"i":56,"v":22},{"k":5,"b":820,"i":57,"v":26},{"k":5,"b":820,"i":58,"v":19},{"k":5,"b":820,"i":59,"v":24},
{"k":5,"b":820,"i":60,"v":15},{"k":5,"b":820,"i":61,"v":20},{"k":5,"b":820,"i":62,"v":24},{"k":5,"b":820,"i":63,"v":71},{"k":5,"b":820,"i":64,"v":150},{"k":5,"b":820,"i":65,"v":88},{"k":5,"b":820,"i":66,"v":30},{"k":5,"b":820,"i":67,"v":25},{"k":5,"b":820,"i":68,"v":18},{"k":5,"b":820,"i":69,"v":28},
{"k":5,"b":820,"i":70,"v":14},{"k":5,"b":820,"i":71,"v":22},{"k":5,"b":820,"i":72,"v":8},{"k":5,"b":820,"i":73,"v":20},{"k":5,"b":820,"i":74,"v":25},{"k":5,"b":820,"i":75,"v":16},{"k":5,"b":820,"i":76,"v":23},{"k":5,"b":820,"i":77,"v":19},{"k":5,"b":820,"i":78,"v":31},{"k":5,"b":820,"i":79,"v":21},
{"k":5,"b":820,"i":80,"v":27},{"k":5,"b":820,"i":81,"v":18},{"k":5,"b":820,"i":82,"v":24},{"k":5,"b":820,"i":83,"v":29},{"k":5,"b":820,"i":84,"v":17},{"k":5,"b":820,"i":85,"v":26},{"k":5,"b":820,"i":86,"v":14},{"k":5,"b":820,"i":87,"v":22},{"k":5,"b":820,"i":88,"v":28},{"k":5,"b":820,"i":89,"v":19},
{"k":5,"b":820,"i":90,"v":25},{"k":5,"b":820,"i":91,"v":12},{"k":5,"b":820,"i":92,"v":21},{"k":5,"b":820,"i":93,"v":17},{"k":5,"b":820,"i":94,"v":24},{"k":5,"b":820,"i":95,"v":11},{"k":5,"b":820,"i":96,"v":20},{"k":5,"b":820,"i":97,"v":26},{"k":5,"b":820,"i":98,"v":15},{"k":5,"b":820,"i":99,"v":22},
{"k":5,"b":820,"i":100,"v":18},{"k":5,"b":820,"i":101,"v":27},{"k":5,"b":820,"i":102,"v":20},{"k":5,"b":820,"i":103,"v":33},{"k":5,"b":820,"i":104,"v":22},{"k":5,"b":820,"i":105,"v":16},{"k":5,"b":820,"i":106,"v":28},{"k":5,"b":820,"i":107,"v":19},{"k":5,"b":820,"i":108,"v":25},{"k":5,"b":820,"i":109,"v":14},
{"k":5,"b":820,"i":110,"v":21},{"k":5,"b":820,"i":111,"v":27},{"k":5,"b":820,"i":112,"v":12},{"k":5,"b":820,"i":113,"v":23},{"k":5,"b":820,"i":114,"v":18},{"k":5,"b":820,"i":115,"v":25},{"k":5,"b":820,"i":116,"v":9},{"k":5,"b":820,"i":117,"v":22},{"k":5,"b":820,"i":118,"v":15},{"k":5,"b":820,"i":119,"v":26},
{"k":5,"b":820,"i":120,"v":18},{"k":5,"b":820,"i":121,"v":10},{"k":5,"b":820,"i":122,"v":24},{"k":5,"b":820,"i":123,"v":16},{"k":5,"b":820,"i":124,"v":6},{"k":5,"b":820,"i":125,"v":21},{"k":5,"b":820,"i":126,"v":14},{"k":5,"b":820,"i":127,"v":8}
]
},
"data": {"name": "profiles"},
"transform": [
  {"lookup": "k", "from": {"data": {"name": "pulsars"}, "key": "k", "fields": ["name"]}}
],
"facet": {
  "field": "name", "type": "nominal", "title": null,
  "header": {"title": null, "labelFont": "Liberation Serif", "labelFontSize": 40, "labelColor": "black", "labelPadding": 13}
},
"columns": 4,
"spacing": {"column": 156.5, "row": 152},
"spec": {
  "width": 370,
  "height": 368,
  "layer": [
    {
      "mark": {"type": "line", "color": "black", "strokeWidth": 2.3, "strokeJoin": "round"},
      "encoding": {
        "x": {"field": "i", "type": "quantitative", "scale": {"domain": [0, 127], "nice": false, "zero": false}, "axis": null},
        "y": {"field": "v", "type": "quantitative", "scale": {"domain": [0, 368], "nice": false, "zero": false}, "axis": null},
        "detail": {"field": "b", "type": "nominal"}
      }
    },
    {
      "transform": [
        {"aggregate": [{"op": "max", "field": "v", "as": "top"}], "groupby": ["name", "b"]},
        {"joinaggregate": [{"op": "count", "as": "nb"}], "groupby": ["name"]},
        {"filter": "datum.nb == 1"},
        {"calculate": "datum.b + ' MHZ'", "as": "label"}
      ],
      "mark": {"type": "text", "align": "right", "baseline": "alphabetic", "dy": 33, "dx": -1, "font": "Liberation Serif", "fontSize": 33, "color": "black"},
      "encoding": {
        "x": {"datum": 127},
        "y": {"field": "top", "type": "quantitative"},
        "text": {"field": "label"}
      }
    },
    {
      "transform": [
        {"aggregate": [{"op": "max", "field": "v", "as": "top"}], "groupby": ["name", "b"]},
        {"joinaggregate": [{"op": "count", "as": "nb"}], "groupby": ["name"]},
        {"filter": "datum.nb == 2"},
        {"calculate": "datum.b + ' MHZ'", "as": "label"}
      ],
      "mark": {"type": "text", "align": "right", "baseline": "alphabetic", "dy": 15, "dx": -1, "font": "Liberation Serif", "fontSize": 33, "color": "black"},
      "encoding": {
        "x": {"datum": 127},
        "y": {"field": "top", "type": "quantitative"},
        "text": {"field": "label"}
      }
    }
  ]
}
}
